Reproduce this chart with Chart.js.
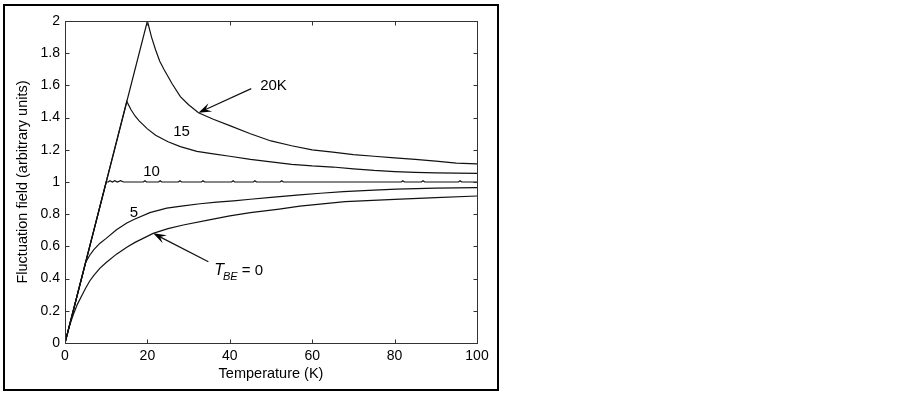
<!DOCTYPE html>
<html><head><meta charset="utf-8">
<script src="https://cdn.jsdelivr.net/npm/chart.js@4"></script>
<style>
html,body{margin:0;padding:0;background:#fff}
#wrap{width:902px;height:393px;position:relative}
#frame{position:absolute;left:3px;top:4px;width:492px;height:383px;border:2px solid #000;pointer-events:none}
</style>
</head><body>
<div id="wrap"><canvas id="c"></canvas><div id="frame"></div></div>
<script>
// ---- data ----
const xTicks = [0, 20, 40, 60, 80, 100];
const yTicks = [0, 0.2, 0.4, 0.6, 0.8, 1, 1.2, 1.4, 1.6, 1.8, 2];

const t20 = [0,20,21,22,23,24,26,28,30,32.4,36,40,45,50,55,60,65,70,75,80,85,90,95,100];
const f20 = [0,2.0,1.90,1.82,1.75,1.70,1.61,1.53,1.48,1.43,1.39,1.35,1.30,1.255,1.225,1.20,1.185,1.17,1.16,1.15,1.14,1.13,1.117,1.112];

const t15 = [0,15,16,17,18,20,22,25,28,32,36,40,45,50,55,60,65,70,75,80,85,90,95,100];
const f15 = [0,1.5,1.45,1.41,1.38,1.33,1.29,1.25,1.22,1.19,1.175,1.16,1.14,1.125,1.11,1.10,1.093,1.082,1.072,1.065,1.06,1.057,1.055,1.054];

const t10 = [0,10,10.5,10.9,11.5,12.1,12.7,13.5,14.2,19,19.4,19.8,22.7,23.1,23.5,27.5,27.9,28.3,33.1,33.5,33.9,40.4,40.8,41.2,45.7,46.1,46.5,52.2,52.6,53,81.6,82,82.4,86.5,86.9,87.3,95.5,95.9,96.3,100];
const f10 = [0,1,1,1.008,1,1.008,1,1.008,1,1,1.008,1,1,1.008,1,1,1.008,1,1,1.008,1,1,1.008,1,1,1.008,1,1,1.008,1,1,1.008,1,1,1.008,1,1,1.008,1,1];

const t5 = [0,5,6,7,8.5,10,12.5,15,17,20.6,24.7,28.7,32.8,36.8,40.9,45,50,57,62,67.6,75,80.5,90,100];
const f5 = [0,0.5,0.545,0.58,0.62,0.65,0.703,0.745,0.77,0.81,0.838,0.852,0.865,0.875,0.883,0.893,0.905,0.92,0.93,0.94,0.95,0.956,0.962,0.965];

const t0 = [0,1,2,3,4,5,6,7,8.5,10,12.5,15,17,21.4,25,28.7,35,40,45,52,57,68,80,90,100];
const f0 = [0,0.1,0.175,0.24,0.29,0.34,0.385,0.42,0.465,0.5,0.552,0.595,0.625,0.681,0.71,0.733,0.765,0.79,0.81,0.832,0.85,0.878,0.892,0.903,0.913];

const seriesNames = ['20K', '15', '10', '5', '0'];
const curveLabels = ['20K', '15', '10', '5'];
const curveLabelX = [50.6, 28.3, 21, 16.7];
const curveLabelY = [1.60, 1.31, 1.06, 0.81];
const arrowFrom = [[45.2, 1.58], [34.8, 0.505]];
const arrowTo   = [[32.4, 1.43], [21.4, 0.681]];
const tbeLabelPos = [36.2, 0.422];

const xTitle = 'Temperature (K)';
const yTitle = 'Fluctuation field (arbitrary units)';

// ---- chart ----
const FONT = '"Liberation Sans", Arial, Helvetica, sans-serif';
const pts = (t, f) => t.map((v, i) => ({x: v, y: f[i]}));
const series = [[t20,f20],[t15,f15],[t10,f10],[t5,f5],[t0,f0]];

const decor = {
  id: 'decor',
  afterDatasetsDraw(chart) {
    const {ctx, scales: {x, y}} = chart;
    ctx.save();
    ctx.fillStyle = '#000';
    ctx.textAlign = 'center';
    ctx.textBaseline = 'middle';
    ctx.font = '15px ' + FONT;
    curveLabels.forEach((s, i) => {
      ctx.fillText(s, x.getPixelForValue(curveLabelX[i]), y.getPixelForValue(curveLabelY[i]));
    });
    // T_BE = 0
    let px = x.getPixelForValue(tbeLabelPos[0]);
    const py = y.getPixelForValue(tbeLabelPos[1]);
    ctx.textAlign = 'left';
    ctx.textBaseline = 'alphabetic';
    ctx.font = 'italic 16px ' + FONT;
    ctx.fillText('T', px, py);
    px += ctx.measureText('T').width - 1;
    ctx.font = 'italic 11px ' + FONT;
    ctx.fillText('BE', px, py + 5);
    px += ctx.measureText('BE').width;
    ctx.font = '15px ' + FONT;
    ctx.fillText(' = 0', px, py);
    // arrows
    ctx.strokeStyle = '#111';
    ctx.lineWidth = 1.2;
    arrowFrom.forEach((fr, i) => {
      const x1 = x.getPixelForValue(fr[0]), y1 = y.getPixelForValue(fr[1]);
      const x2 = x.getPixelForValue(arrowTo[i][0]), y2 = y.getPixelForValue(arrowTo[i][1]);
      const dx = x1 - x2, dy = y1 - y2, len = Math.hypot(dx, dy);
      const ux = dx / len, uy = dy / len, nx = -uy, ny = ux;
      const L = 13, W = 9;
      ctx.beginPath(); ctx.moveTo(x1, y1); ctx.lineTo(x2 + ux * 6, y2 + uy * 6); ctx.stroke();
      ctx.beginPath();
      ctx.moveTo(x2, y2);
      ctx.lineTo(x2 + ux * L + nx * W / 2, y2 + uy * L + ny * W / 2);
      ctx.lineTo(x2 + ux * L * 0.6, y2 + uy * L * 0.6);
      ctx.lineTo(x2 + ux * L - nx * W / 2, y2 + uy * L - ny * W / 2);
      ctx.closePath();
      ctx.fill();
    });
    ctx.restore();
  },
  afterDraw(chart) {
    const {ctx, chartArea: a, scales: {x, y}} = chart;
    ctx.save();
    ctx.strokeStyle = '#333';
    ctx.lineWidth = 1;
    const l = Math.round(a.left) + 0.5, r = Math.round(a.right) + 0.5;
    const t = Math.round(a.top) + 0.5, b = Math.round(a.bottom) + 0.5;
    ctx.strokeRect(l, t, r - l, b - t);
    ctx.beginPath();
    xTicks.slice(1, -1).forEach(v => {
      const p = Math.round(x.getPixelForValue(v)) + 0.5;
      ctx.moveTo(p, b); ctx.lineTo(p, b - 4);
      ctx.moveTo(p, t); ctx.lineTo(p, t + 4);
    });
    yTicks.slice(1, -1).forEach(v => {
      const p = Math.round(y.getPixelForValue(v)) + 0.5;
      ctx.moveTo(l, p); ctx.lineTo(l + 4, p);
      ctx.moveTo(r, p); ctx.lineTo(r - 4, p);
    });
    ctx.stroke();
    ctx.restore();
  }
};

new Chart(document.getElementById('c'), {
  type: 'line',
  data: {
    datasets: series.map((s, i) => ({
      label: seriesNames[i],
      data: pts(s[0], s[1]),
      borderColor: '#111',
      borderWidth: 1.2,
      pointRadius: 0,
      tension: 0,
      fill: false
    }))
  },
  options: {
    responsive: true,
    maintainAspectRatio: false,
    animation: false,
    events: [],
    layout: {padding: {left: 0, top: 21, right: 425, bottom: 0}},
    plugins: {legend: {display: false}, tooltip: {enabled: false}},
    scales: {
      x: {
        type: 'linear', min: 0, max: 100,
        afterBuildTicks: s => { s.ticks = xTicks.map(v => ({value: v})); },
        afterFit: s => { s.height = 50; },
        grid: {display: false, drawTicks: false},
        border: {display: false},
        ticks: {color: '#000', font: {family: FONT, size: 14}, padding: 5, maxRotation: 0, autoSkip: false},
        title: {display: true, text: xTitle, color: '#000', font: {family: FONT, size: 14.5}, padding: {top: 0, bottom: 10}}
      },
      y: {
        type: 'linear', min: 0, max: 2,
        afterBuildTicks: s => { s.ticks = yTicks.map(v => ({value: v})); },
        afterFit: s => { s.width = 65; },
        grid: {display: false, drawTicks: false},
        border: {display: false},
        ticks: {color: '#000', font: {family: FONT, size: 14}, padding: 5, autoSkip: false,
                callback: v => String(+Number(v).toFixed(1))},
        title: {display: true, text: yTitle, color: '#000', font: {family: FONT, size: 14.5}, padding: {top: 14, bottom: 0}}
      }
    }
  },
  plugins: [decor]
});
</script>
</body></html>
